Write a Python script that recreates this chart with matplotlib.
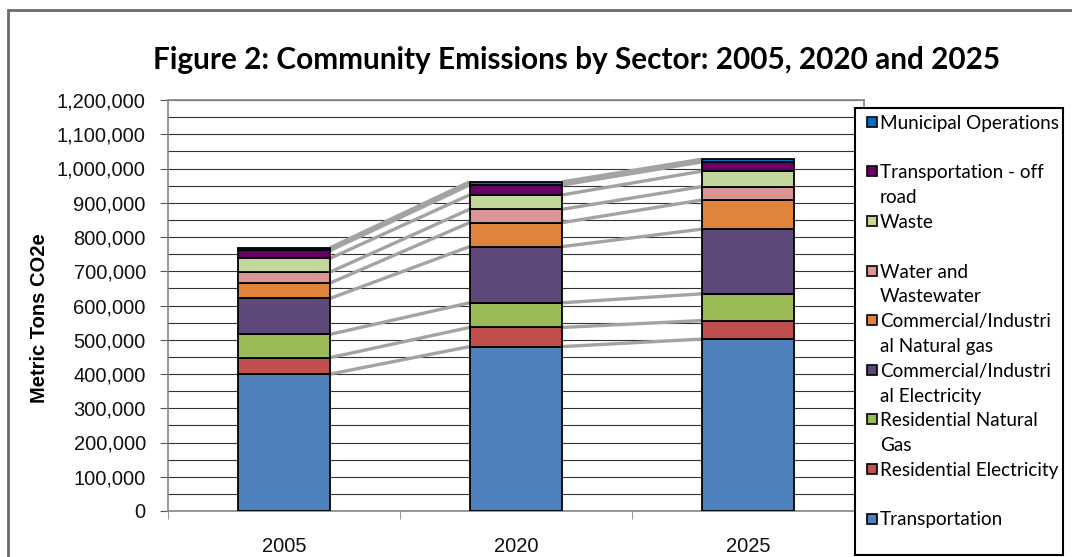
import matplotlib
matplotlib.use("Agg")
import matplotlib.pyplot as plt
import numpy as np
from matplotlib.patches import Rectangle
from matplotlib.ticker import FuncFormatter, MultipleLocator

W, H = 1072, 557

years = ["2005", "2020", "2025"]

transportation = [400000, 480000, 502000]
residential_electricity = [48000, 56000, 54000]
residential_natural_gas = [68000, 72000, 78000]
commercial_electricity = [105000, 164000, 189000]
commercial_natural_gas = [45000, 70000, 85000]
water_wastewater = [32000, 39000, 39000]
waste = [40000, 42000, 45000]
transportation_off_road = [23000, 29000, 27000]
municipal_operations = [8000, 9000, 8000]

# bottom to top
series = [
    transportation,
    residential_electricity,
    residential_natural_gas,
    commercial_electricity,
    commercial_natural_gas,
    water_wastewater,
    waste,
    transportation_off_road,
    municipal_operations,
]
colors = ["#4F81BD", "#C0504D", "#9BBB59", "#5F497A", "#E0833C",
          "#D99694", "#C3D69B", "#680068", "#0070C0"]

# legend top to bottom, wrapped like the original
legend_labels = [
    "Municipal Operations",
    "Transportation - off\nroad",
    "Waste",
    "Water and\nWastewater",
    "Commercial/Industri\nal Natural gas",
    "Commercial/Industri\nal Electricity",
    "Residential Natural\nGas",
    "Residential Electricity",
    "Transportation",
]


def fx(px):
    return px / W


def fy(py):
    return 1 - py / H


fig = plt.figure(figsize=(W / 100, H / 100), dpi=100)
fig.patch.set_facecolor("white")

# outer chart frame
fig.add_artist(Rectangle((fx(8), fy(600)), fx(1100) - fx(8), fy(10) - fy(600),
                         transform=fig.transFigure, fill=False,
                         edgecolor="#6b6b6b", linewidth=2))

ax = fig.add_axes([fx(168), fy(511), fx(864) - fx(168), fy(100) - fy(511)])

x = np.arange(len(years))
width = 0.4
bottom = np.zeros(len(years))
levels = []
for vals, c in zip(series, colors):
    ax.bar(x, vals, width, bottom=bottom, color=c, edgecolor="black",
           linewidth=1.3, zorder=3)
    bottom = bottom + np.array(vals)
    levels.append(bottom.copy())

# series lines between the stacks
for lev in levels:
    for i in range(len(years) - 1):
        ax.plot([x[i] + width / 2, x[i + 1] - width / 2], [lev[i], lev[i + 1]],
                color="#a3a3a3", linewidth=2.4, solid_capstyle="butt", zorder=2)

ax.set_xlim(-0.5, 2.5)
ax.set_ylim(0, 1200000)
ax.yaxis.set_major_locator(MultipleLocator(100000))
ax.yaxis.set_minor_locator(MultipleLocator(50000))
ax.yaxis.set_major_formatter(FuncFormatter(lambda v, p: f"{int(v):,}"))
ax.grid(axis="y", which="both", color="#333333", linewidth=0.8, zorder=0)
ax.set_axisbelow(True)

ax.set_xticks(x)
ax.set_xticklabels(years)
ax.set_xticks(np.arange(-0.5, 3.0, 1.0), minor=True)
ax.tick_params(axis="x", which="major", length=0, pad=19)
ax.tick_params(axis="x", which="minor", length=6, color="#868686", direction="out")
ax.tick_params(axis="y", which="major", length=6, color="#555555", pad=10)
ax.tick_params(axis="y", which="minor", length=0)
for lbl in ax.get_xticklabels() + ax.get_yticklabels():
    lbl.set_fontfamily("Liberation Sans")
    lbl.set_fontsize(14.5)
    lbl.set_color("#111111")

for side in ["left", "bottom", "top", "right"]:
    ax.spines[side].set_color("#868686")
    ax.spines[side].set_linewidth(1.2)

fig.text(fx(40), fy(318), "Metric Tons CO2e", rotation=90, ha="center",
         va="center", fontfamily="Liberation Sans", fontweight="bold",
         fontsize=14.5)

fig.text(fx(577), fy(60),
         "Figure 2: Community Emissions by Sector: 2005, 2020 and 2025",
         ha="center", va="center", fontfamily="Lato", fontweight="bold",
         fontsize=21.4)

# legend box, drawn the way the spreadsheet lays it out
fig.add_artist(Rectangle((fx(855), fy(555)), fx(1063) - fx(855), fy(108) - fy(555),
                         transform=fig.transFigure, facecolor="white",
                         edgecolor="black", linewidth=1.5, zorder=10))
legend_colors = colors[::-1]
for i, (lab, c) in enumerate(zip(legend_labels, legend_colors)):
    yc = 121.7 + 49.6 * i
    fig.add_artist(Rectangle((fx(867), fy(yc + 5)), fx(10) - fx(0), fy(0) - fy(10),
                             transform=fig.transFigure, facecolor=c,
                             edgecolor="black", linewidth=1.2, zorder=11))
    for k, line in enumerate(lab.split("\n")):
        fig.text(fx(880), fy(yc + 25 * k), line, ha="left",
                 va="center_baseline", fontfamily="Lato", fontsize=13.6,
                 color="black", zorder=12)

fig.savefig("out.png", dpi=100)
